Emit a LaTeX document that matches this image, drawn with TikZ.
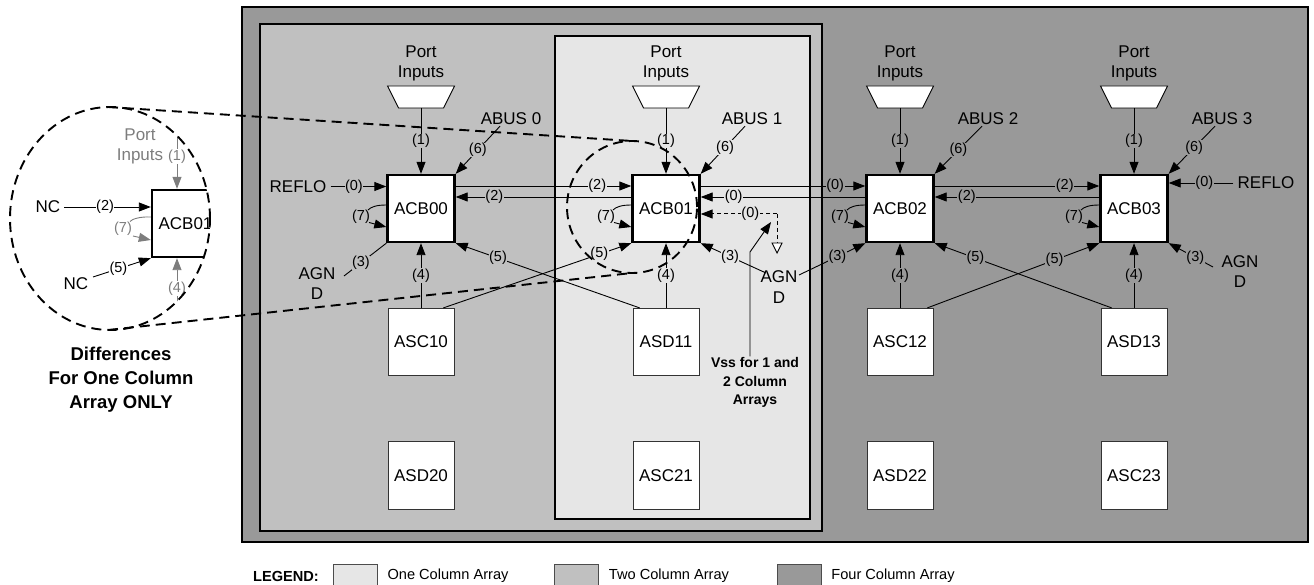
\documentclass[tikz,border=0pt]{standalone}
\usepackage{fontspec}
\setmainfont{Liberation Sans}
\usetikzlibrary{arrows.meta}
\definecolor{cOne}{RGB}{230,230,230}
\definecolor{cTwo}{RGB}{192,192,192}
\definecolor{cFour}{RGB}{153,153,153}
\definecolor{cInset}{RGB}{125,125,125}
\begin{document}
\begin{tikzpicture}[x=1pt,y=-1pt,
  every node/.style={inner sep=1pt},
  main/.style={font=\fontsize{17}{20.5}\selectfont, align=center},
  lab/.style={font=\fontsize{14.5}{15}\selectfont, inner sep=0.5pt},
  lA/.style={lab, fill=cTwo},
  lB/.style={lab, fill=cOne},
  lC/.style={lab, fill=cFour},
  lW/.style={lab, fill=white},
  wire/.style={line width=0.9pt},
  arr/.style={wire, -{Triangle[length=12pt,width=9pt]}},
  acb/.style={draw, line width=2.4pt, fill=white, minimum width=67pt, minimum height=67pt, inner sep=0pt, font=\fontsize{17}{20}\selectfont},
  asx/.style={draw=black!80, line width=0.7pt, fill=white, minimum width=66pt, minimum height=67.5pt, inner sep=0pt, font=\fontsize{17}{20}\selectfont},
  region/.style={draw, line width=1.3pt},
  zoomline/.style={line width=1.9pt, dash pattern=on 10pt off 6pt},
  dashwire/.style={line width=1pt, dash pattern=on 4pt off 3pt},
  legbox/.style={draw=black!70, line width=0.7pt, minimum width=44pt, minimum height=24pt, inner sep=0pt},
  legtext/.style={font=\fontsize{14.6}{15}\selectfont},
]
\useasboundingbox (0,0) rectangle (1314,585);

% regions
\draw[region, fill=cFour] (242,7) rectangle (1308,542);
\draw[region, fill=cTwo] (260,24) rectangle (822,531);
\draw[region, fill=cOne] (555,36) rectangle (810,519);

% columns
\foreach \n/\x/\lf/\asa/\asb in {00/421/lA/ASC10/ASD20, 01/666/lB/ASD11/ASC21, 02/900/lC/ASC12/ASD22, 03/1134/lC/ASD13/ASC23} {
  \node[main] (pin\n) at (\x,63.5) {Port\\Inputs};
  \draw[wire, fill=white] (\x-33.5,86) -- (\x+33.5,86) -- (\x+22.5,108) -- (\x-22.5,108) -- cycle;
  \coordinate (trap\n) at (\x,108);
  \node[acb] (acb\n) at (\x,208.5) {ACB\n};
  \node[asx] (asa\n) at (\x,342) {\asa};
  \node[asx] (asb\n) at (\x,475.5) {\asb};
  \draw[arr] (trap\n) -- node[\lf]{(1)} (acb\n.north);
  \draw[arr] (asa\n.north) -- node[\lf]{(4)} (acb\n.south);
  \node[lab] (sev\n) at (\x-60,217) {(7)};
  \draw[wire] ([yshift=3.5pt]acb\n.west) .. controls (\x-45,205) and (\x-50,207) .. (\x-53,210);
  \draw[arr] (\x-52,222.5) -- ([yshift=-18.5pt]acb\n.west);
}

% horizontal links
\draw[arr] ([yshift=22.5pt]acb00.east) -- node[lB,pos=0.806]{(2)} ([yshift=22.5pt]acb01.west);
\draw[arr] ([yshift=11.5pt]acb01.west) -- node[lA,pos=0.78]{(2)} ([yshift=11.5pt]acb00.east);
\draw[arr] ([yshift=22.5pt]acb01.east) -- node[lC,pos=0.817]{(0)} ([yshift=22.5pt]acb02.west);
\draw[arr] ([yshift=11.5pt]acb02.west) -- node[lB,pos=0.8]{(0)} ([yshift=11.5pt]acb01.east);
\draw[arr] ([yshift=22.5pt]acb02.east) -- node[lC,pos=0.79]{(2)} ([yshift=22.5pt]acb03.west);
\draw[arr] ([yshift=11.5pt]acb03.west) -- node[lC,pos=0.805]{(2)} ([yshift=11.5pt]acb02.east);

% REFLO
\node[main] (reflo0) at (298,186.5) {REFLO};
\draw[arr] ([xshift=3pt]reflo0.east) -- node[lA,pos=0.42]{(0)} ([yshift=22pt]acb00.west);
\node[main] (reflo3) at (1266,183) {REFLO};
\draw[arr] ([xshift=-3pt]reflo3.west) -- node[lC,pos=0.45]{(0)} ([yshift=25.5pt]acb03.east);

% ABUS
\node[main] (abus0) at (511,119) {ABUS 0};
\draw[arr] ([xshift=-11pt]abus0.south) -- node[lA]{(6)} (acb00.north east);
\node[main] (abus1) at (752,119) {ABUS 1};
\draw[arr] ([xshift=-7pt]abus1.south) -- node[lB,pos=0.45]{(6)} (acb01.north east);
\node[main] (abus2) at (988,119) {ABUS 2};
\draw[arr] ([xshift=-6pt]abus2.south) -- node[lC]{(6)} (acb02.north east);
\node[main] (abus3) at (1222,119) {ABUS 3};
\draw[arr] ([xshift=-7pt]abus3.south) -- node[lC,pos=0.45]{(6)} (acb03.north east);

% AGND
\node[main] (agnd0) at (317,283.5) {AGN\\D};
\coordinate (g0) at (344,276);
\draw[wire] (g0) -- node[lA,pos=0.4]{(3)} (acb00.south west);
\node[main] (agnd1) at (779,287) {AGN\\D};
\coordinate (g1a) at (766,273);
\coordinate (g1b) at (799,275);
\draw[arr] (g1a) -- node[lB,pos=0.55]{(3)} (acb01.south east);
\draw[arr] (g1b) -- node[lC,pos=0.58]{(3)} (acb02.south west);
\node[main] (agnd3) at (1240,271.5) {AGN\\D};
\coordinate (g3) at (1213,267);
\draw[arr] (g3) -- node[lC,pos=0.4]{(3)} (acb03.south east);

% (5) crossing links
\draw[arr] ([xshift=-11pt]asa00.north east) -- node[lB,pos=0.83]{(5)} (acb01.south west);
\draw[arr] ([xshift=7pt]asa01.north west) -- node[lA,pos=0.77]{(5)} (acb00.south east);
\draw[arr] ([xshift=-6pt]asa02.north east) -- node[lC,pos=0.74]{(5)} (acb03.south west);
\draw[arr] ([xshift=11pt]asa03.north west) -- node[lC,pos=0.77]{(5)} (acb02.south east);

% dashed Vss link
\coordinate (dcorner) at (777,214);
\coordinate (gnd) at (777,243);
\draw[dashwire, -{Triangle[length=12pt,width=9pt]}] (dcorner) -- node[lB,pos=0.35]{(0)} ([yshift=-5.5pt]acb01.east);
\draw[dashwire] (dcorner) -- (gnd);
\draw[wire, fill=white] ([xshift=-5pt]gnd) -- ([xshift=5pt]gnd) -- ([yshift=-10pt]gnd) -- cycle;
\node[font=\bfseries\fontsize{14}{18.5}\selectfont, align=center] (vss) at (755,382.5) {Vss for 1 and\\2 Column\\Arrays};
\coordinate (vbend) at (750,252);
\coordinate (vtip) at (771,222);
\draw[arr] ([xshift=-5pt]vss.north) -- (vbend) -- (vtip);

% inset
\begin{scope}
  \clip (110,218.5) ellipse [x radius=100pt, y radius=111.5pt];
  \node[acb] (iacb) at (185.5,223.5) {ACB01};
  \node[main, text=cInset] (iport) at (140,146.5) {Port\\Inputs};
  \coordinate (i1) at (177,125);
  \draw[arr, color=cInset] (i1) -- node[lW, text=cInset, pos=0.49]{(1)} ([xshift=-8.5pt]iacb.north);
  \node[main] (nc2) at (48,207) {NC};
  \draw[arr] ([xshift=3pt]nc2.east) -- node[lW,pos=0.47]{(2)} ([yshift=16.5pt]iacb.west);
  \draw[wire, color=cInset] ([yshift=6.5pt]iacb.west) .. controls (140,216.5) and (132,219) .. (130,221.5);
  \node[lab, text=cInset] (isev) at (123,229) {(7)};
  \draw[arr, color=cInset] (133,236) -- ([yshift=-16.5pt]iacb.west);
  \node[main] (nc5) at (76,284) {NC};
  \coordinate (i5) at (93,277);
  \draw[arr] (i5) -- node[lW,pos=0.44]{(5)} (iacb.south west);
  \coordinate (i4) at (177,320);
  \draw[arr, color=cInset] (i4) -- node[lW, text=cInset, pos=0.51]{(4)} ([xshift=-8.5pt]iacb.south);
\end{scope}

% zoom outline
\coordinate (bigc) at (110,218.5);
\coordinate (smallc) at (632,207);
\draw[zoomline] (bigc) ellipse [x radius=100pt, y radius=111.5pt];
\draw[zoomline] (smallc) ellipse [x radius=65pt, y radius=66pt];
\coordinate (bigtop) at (108,107);
\coordinate (bigbot) at (108,330);
\coordinate (smalltop) at (632,141);
\coordinate (smallbot) at (632,273);
\draw[zoomline] (bigtop) -- (smalltop);
\draw[zoomline] (bigbot) -- (smallbot);

\node[font=\bfseries\fontsize{18.5}{24}\selectfont, align=center] (diff) at (121,380) {Differences\\For One Column\\Array ONLY};

% legend
\node[font=\bfseries\fontsize{14.6}{15}\selectfont] (leg) at (286,576) {LEGEND:};
\node[legbox, fill=cOne] (lg1) at (355,576) {};
\node[legtext] (lt1) at (448,576) {One Column Array};
\node[legbox, fill=cTwo] (lg2) at (576.5,576) {};
\node[legtext] (lt2) at (669,576) {Two Column Array};
\node[legbox, fill=cFour] (lg3) at (799.5,576) {};
\node[legtext] (lt3) at (893,576) {Four Column Array};
\end{tikzpicture}
\end{document}
